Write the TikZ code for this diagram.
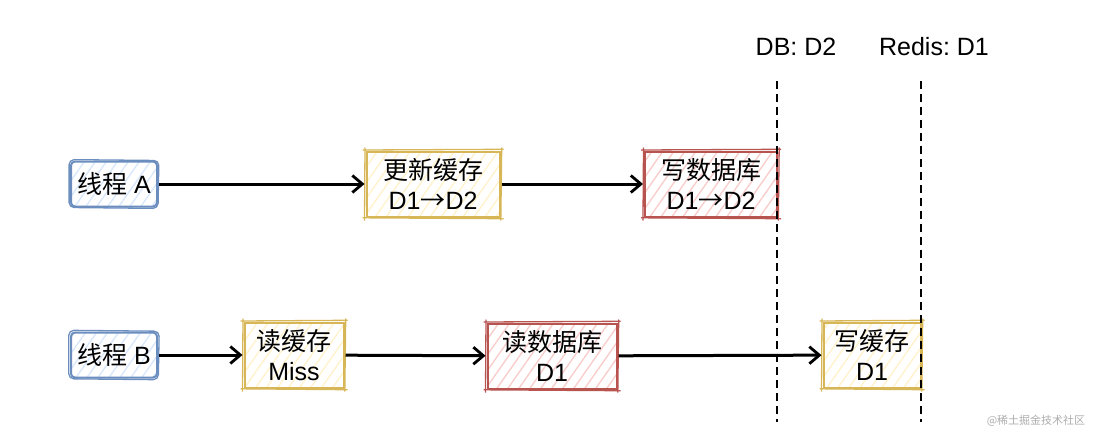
\documentclass[tikz,border=0pt]{standalone}
\usepackage{fontspec}
\setmainfont{Liberation Sans}
\newfontfamily\cjk{Noto Sans CJK SC}
\usetikzlibrary{arrows.meta,patterns.meta}

\definecolor{blueline}{HTML}{6C8EBF}
\definecolor{bluehatch}{HTML}{DAE8FC}
\definecolor{yellowline}{HTML}{D6B656}
\definecolor{yellowhatch}{HTML}{FFF2CC}
\definecolor{redline}{HTML}{B85450}
\definecolor{redhatch}{HTML}{F8CECC}

\tikzset{
  sketchbox/.style n args={2}{draw=#1,line width=2pt,
    pattern={Lines[angle=55,distance=9pt,line width=1.4pt]},pattern color=#2},
  threadbox/.style={sketchbox={blueline}{bluehatch},rounded corners=4pt,
    minimum width=86pt,minimum height=45pt},
  cachebox/.style={sketchbox={yellowline}{yellowhatch},minimum height=65pt},
  dbbox/.style={sketchbox={redline}{redhatch},minimum height=65pt},
  flow/.style={-{Straight Barb[length=10pt,width=17pt,line width=2.8pt]},
    line width=3pt,shorten >=1pt,shorten <=1pt},
  border/.style={dash pattern=on 8pt off 5pt,line width=2pt}
}

% second pencil stroke round a box, running past its corners
\newcommand{\roughbox}[2]{%
  \draw[#2,line width=1.3pt]
    ([shift={(-3,-0.5)}]#1.north west) -- ([shift={(3,-1.2)}]#1.north east)
    ([shift={(1.2,-3)}]#1.north east) -- ([shift={(0.3,3)}]#1.south east)
    ([shift={(3,1.2)}]#1.south east) -- ([shift={(-3,0.3)}]#1.south west)
    ([shift={(-1,3)}]#1.south west) -- ([shift={(-0.5,-3)}]#1.north west);
}
\newcommand{\roughround}[2]{%
  \draw[#2,line width=1.3pt,rounded corners=5pt]
    ([shift={(-1.2,-1.2)}]#1.north west) -- ([shift={(1.2,-0.3)}]#1.north east)
    -- ([shift={(0.3,1.2)}]#1.south east) -- ([shift={(-1.2,0.3)}]#1.south west) -- cycle;
}

\begin{document}
\frenchspacing
\begin{tikzpicture}
[x=1pt,y=-1pt,%
  every node/.style={inner sep=0pt,align=center,font=\fontsize{25}{30.5}\selectfont}]
\useasboundingbox (0,0) rectangle (1098,439);

\node[threadbox] (threadA) at (114,184) {{\cjk 线程} A};
\node[cachebox,minimum width=133pt] (updatecache) at (433,184) {{\cjk 更新缓存}\\D1{\cjk →}D2};
\node[dbbox,minimum width=132pt] (writedb) at (711,184) {{\cjk 写数据库}\\D1{\cjk →}D2};

\node[threadbox] (threadB) at (114,355) {{\cjk 线程} B};
\node[cachebox,minimum width=99pt] (readcache) at (294,355) {{\cjk 读缓存}\\Miss};
\node[dbbox,minimum width=129pt] (readdb) at (552,356) {{\cjk 读数据库}\\D1};
\node[cachebox,minimum width=97pt] (writecache) at (872,355) {{\cjk 写缓存}\\D1};

\node (dblabel) at (796,47) {DB: D2};
\node (redislabel) at (934,47) {Redis: D1};
\node[font=\fontsize{11}{13}\selectfont\cjk,text=black!32] (watermark) at (1036,421) {@稀土掘金技术社区};

\roughround{threadA}{blueline}
\roughround{threadB}{blueline}
\roughbox{updatecache}{yellowline}
\roughbox{readcache}{yellowline}
\roughbox{writecache}{yellowline}
\roughbox{writedb}{redline}
\roughbox{readdb}{redline}

\coordinate (dbtop) at (777,81);
\coordinate (dbbottom) at (777,422);
\coordinate (redistop) at (921,81);
\coordinate (redisbottom) at (921,422);
\draw[border] (dbtop) -- (dbbottom);
\draw[border] (redistop) -- (redisbottom);

\draw[flow] (threadA) -- (updatecache);
\draw[flow] (updatecache) -- (writedb);
\draw[flow] (threadB) -- (readcache);
\draw[flow] (readcache) -- (readdb);
\draw[flow] (readdb) -- (writecache);
\end{tikzpicture}
\end{document}
